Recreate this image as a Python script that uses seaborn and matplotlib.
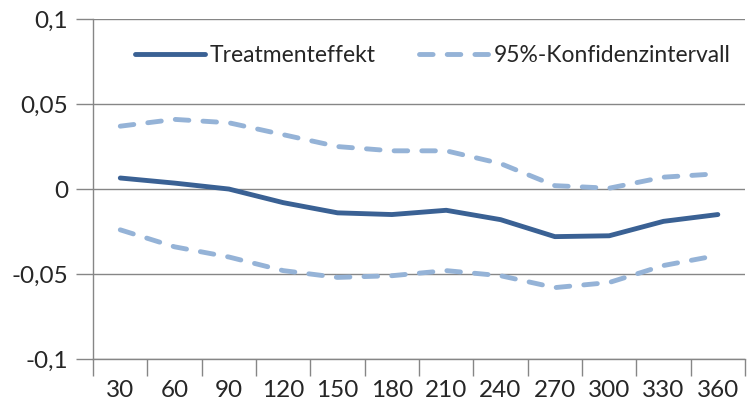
import numpy as np
import pandas as pd
import matplotlib
matplotlib.use("Agg")
import matplotlib.pyplot as plt
import seaborn as sns
from matplotlib.ticker import FuncFormatter


# Data
days = [30, 60, 90, 120, 150, 180, 210, 240, 270, 300, 330, 360]
effect = [0.0065, 0.0035, 0.0, -0.008, -0.014, -0.015, -0.0125, -0.018, -0.028, -0.0275, -0.019, -0.015]
ci_upper = [0.037, 0.041, 0.039, 0.032, 0.025, 0.0225, 0.0225, 0.015, 0.002, 0.0005, 0.007, 0.009]
ci_lower = [-0.024, -0.034, -0.040, -0.048, -0.052, -0.051, -0.048, -0.051, -0.058, -0.055, -0.045, -0.039]

df = pd.DataFrame({"pos": range(len(days)), "effect": effect,
                   "upper": ci_upper, "lower": ci_lower})

sns.set_style("white")
plt.rcParams["font.family"] = ["Lato", "DejaVu Sans"]

dark = "#3a6194"
light = "#95b3d7"
grey = "#868686"
fs = 17.5
leg_fs = 16.5
lw = 3.5
dash = (2.8, 2.9)

fig = plt.figure(figsize=(7.51, 4.07), dpi=100)
ax = fig.add_axes([0.124, 0.118, 0.868, 0.835])

sns.lineplot(data=df, x="pos", y="effect", ax=ax, color=dark, linewidth=lw,
             solid_capstyle="round", label="Treatmenteffekt")
sns.lineplot(data=df, x="pos", y="upper", ax=ax, color=light, linewidth=lw,
             label="95%-Konfidenzintervall")
sns.lineplot(data=df, x="pos", y="lower", ax=ax, color=light, linewidth=lw)
for line in ax.lines[1:]:
    line.set_dashes(dash)
    line.set_dash_capstyle("round")

ax.set_xlim(-0.5, len(days) - 0.5)
ax.set_ylim(-0.1, 0.1)
ax.set_yticks([-0.1, -0.05, 0, 0.05, 0.1])
ax.yaxis.set_major_formatter(FuncFormatter(lambda v, p: f"{v:g}".replace(".", ",")))
ax.set_xticks(range(len(days)))
ax.set_xticklabels([str(d) for d in days])
ax.set_xticks(np.arange(-0.5, len(days)), minor=True)
ax.set_xlabel("")
ax.set_ylabel("")

ax.grid(axis="y", color=grey, linewidth=1)
ax.set_axisbelow(True)
for side in ["top", "right"]:
    ax.spines[side].set_visible(False)
for side in ["left", "bottom"]:
    ax.spines[side].set_color(grey)
    ax.spines[side].set_linewidth(1)

ax.tick_params(axis="y", which="major", length=12, color=grey, width=1,
               labelsize=fs, pad=6, left=True)
ax.tick_params(axis="x", which="major", length=0, labelsize=fs, pad=15)
ax.tick_params(axis="x", which="minor", length=12, color=grey, width=1,
               direction="out", bottom=True)

leg = ax.legend(loc="upper left", bbox_to_anchor=(0.05, 0.95), ncol=2,
                frameon=False, fontsize=leg_fs, handlelength=3.05, handletextpad=0.2,
                columnspacing=1.9, borderaxespad=0)
for h in leg.get_lines()[1:]:
    h.set_dashes(dash)
    h.set_dash_capstyle("round")
leg.get_lines()[0].set_solid_capstyle("round")

fig.savefig("out.png", dpi=100)
